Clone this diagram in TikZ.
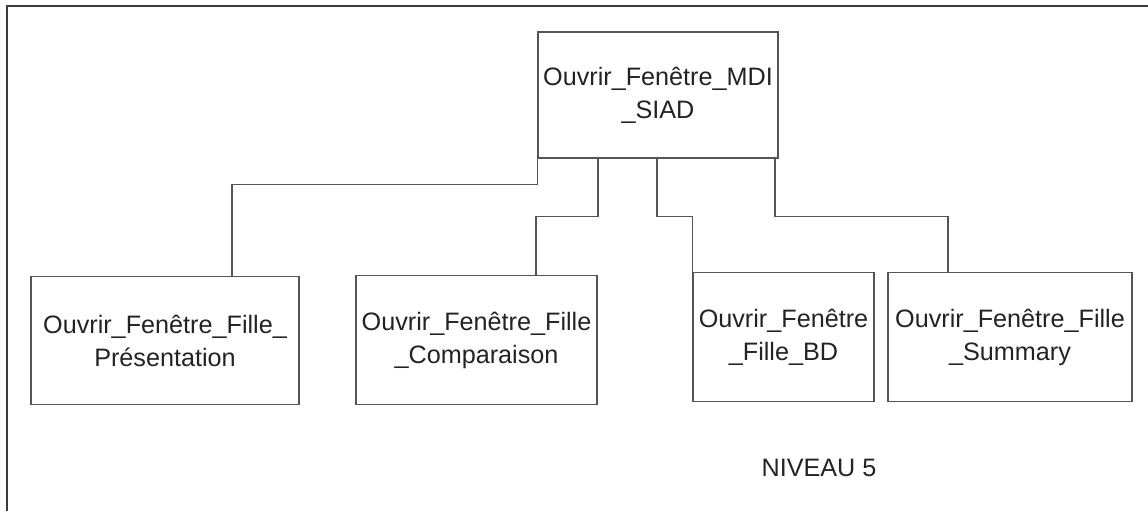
\documentclass[tikz,border=0pt]{standalone}
\usepackage{fontspec}
\setmainfont{Liberation Sans}
\usepackage{tikz}
\usetikzlibrary{calc}
\definecolor{linegray}{RGB}{85,85,85}
\definecolor{framegray}{RGB}{60,60,60}
\definecolor{textgray}{RGB}{35,35,35}

\begin{document}
\begin{tikzpicture}[
  x=0.75pt, y=-0.75pt,
  every node/.style={font=\fontsize{18.9}{24.8}\selectfont, text=textgray},
  box/.style={draw=linegray, line width=0.9pt, inner sep=0pt,
              minimum height=96.5pt, align=center},
  link/.style={draw=linegray, line width=0.9pt},
  frame/.style={draw=framegray, line width=1.8pt},
]
\useasboundingbox (0,0) rectangle (1148,511);

%% -- Outer frame ---------------------------------------------------------------
\draw[frame] (7,511) -- (7,6) -- (1148,6);

%% -- Top level -----------------------------------------------------------------
\node[box, minimum width=180pt, minimum height=94.5pt] (mdi) at (658,95) {Ouvrir\_Fenêtre\_MDI\\\_SIAD};

%% -- Children ------------------------------------------------------------------
\node[box, minimum width=201pt]    (pres) at (165,340.5)  {Ouvrir\_Fenêtre\_Fille\_\\Présentation};
\node[box, minimum width=180.75pt] (comp) at (476.5,340)  {Ouvrir\_Fenêtre\_Fille\\\_Comparaison};
\node[box, minimum width=135.75pt] (bd)   at (783.5,337)  {Ouvrir\_Fenêtre\\\_Fille\_BD};
\node[box, minimum width=183pt]    (summ) at (1010,337)   {Ouvrir\_Fenêtre\_Fille\\\_Summary};

%% -- Links ---------------------------------------------------------------------
\draw[link] (mdi.south west) -- ++(0,26) -| ($(pres.north)+(67,0)$);
\draw[link] (mdi.south) ++(-60,0) -- ++(0,58) -| ($(comp.north)+(59.5,0)$);
\draw[link] (mdi.south) ++(-1,0) -- ++(0,58) -| (bd.north west);
\draw[link] (mdi.south) ++(117,0) -- ++(0,58) -| ($(summ.north)+(-62,0)$);

%% -- Level label ---------------------------------------------------------------
\node (niveau) at (819,468) {NIVEAU 5};

\end{tikzpicture}
\end{document}
